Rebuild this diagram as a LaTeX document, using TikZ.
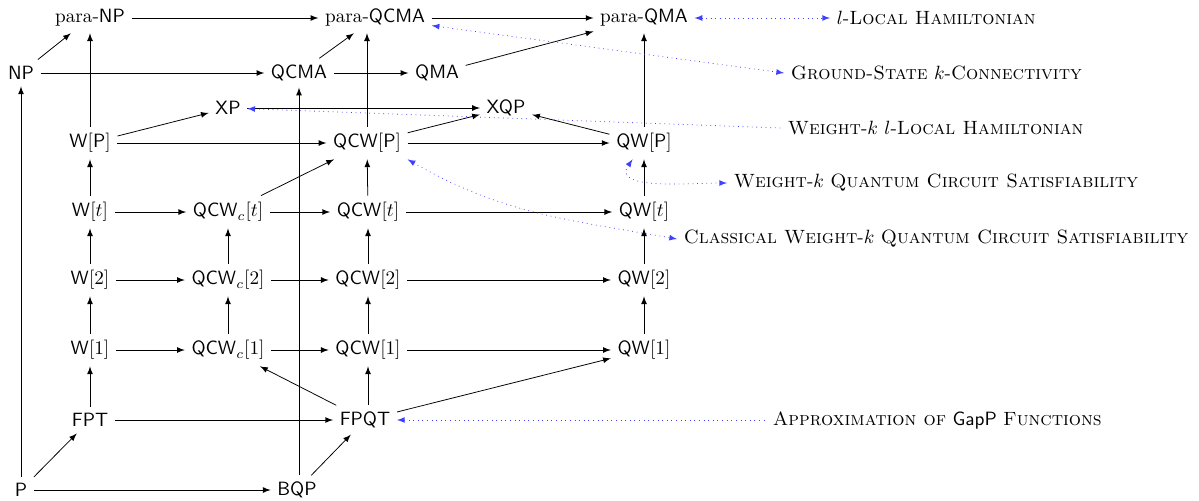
\documentclass[tikz,border=0pt]{standalone}
\usepackage{amsmath}
\usepackage{amssymb}
\usetikzlibrary{arrows}
\tikzset{
  prob/.style={anchor=west},
  incl/.style={->,>=latex},
  compl/.style={>=latex,dotted,blue!75},
}
\newcommand{\cls}[1]{\ensuremath{\mathsf{#1}}}

\begin{document}
\begin{tikzpicture}[x=0.0183cm,y=-0.0183cm]
\useasboundingbox (0,0) rectangle (1199,500);
% classes
\node (pnp) at (90,18) {para-\cls{NP}};
\node (pqcma) at (375,18) {para-\cls{QCMA}};
\node (pqma) at (644,18) {para-\cls{QMA}};
\node (np) at (21,73) {\cls{NP}};
\node (qcma) at (299,73) {\cls{QCMA}};
\node (qma) at (437,73) {\cls{QMA}};
\node (xp) at (228,108) {\cls{XP}};
\node (xqp) at (506,108) {\cls{XQP}};
\node (wp) at (90,143) {$\mathsf{W}[\mathsf{P}]$};
\node (qcwp) at (367,143) {$\mathsf{QCW}[\mathsf{P}]$};
\node (qwp) at (644,143) {$\mathsf{QW}[\mathsf{P}]$};
\node (wt) at (90,212) {$\mathsf{W}[t]$};
\node (qcwct) at (228,212) {$\mathsf{QCW}_c[t]$};
\node (qcwt) at (368,212) {$\mathsf{QCW}[t]$};
\node (qwt) at (644,212) {$\mathsf{QW}[t]$};
\node (w2) at (90,280) {$\mathsf{W}[2]$};
\node (qcwc2) at (228,280) {$\mathsf{QCW}_c[2]$};
\node (qcw2) at (368,280) {$\mathsf{QCW}[2]$};
\node (qw2) at (644,280) {$\mathsf{QW}[2]$};
\node (w1) at (90,350) {$\mathsf{W}[1]$};
\node (qcwc1) at (228,350) {$\mathsf{QCW}_c[1]$};
\node (qcw1) at (368,350) {$\mathsf{QCW}[1]$};
\node (qw1) at (644,350) {$\mathsf{QW}[1]$};
\node (fpt) at (90,420) {\cls{FPT}};
\node (fpqt) at (365,420) {\cls{FPQT}};
\node (p) at (21,490) {\cls{P}};
\node (bqp) at (297,490) {\cls{BQP}};
% problems
\node[prob] (llh) at (830,18) {$l$-\textsc{Local Hamiltonian}};
\node[prob] (gsk) at (784,73) {\textsc{Ground-State} $k$-\textsc{Connectivity}};
\node[prob] (wllh) at (781,128) {\textsc{Weight}-$k$ $l$-\textsc{Local Hamiltonian}};
\node[prob] (wqcs) at (727,183) {\textsc{Weight}-$k$ \textsc{Quantum Circuit Satisfiability}};
\node[prob] (cwqcs) at (677,239) {\textsc{Classical Weight}-$k$ \textsc{Quantum Circuit Satisfiability}};
\node[prob] (gapp) at (766,420) {\textsc{Approximation of} \textsf{GapP} \textsc{Functions}};

\draw[incl] (pnp) -- (pqcma);
\draw[incl] (pqcma) -- (pqma);
\draw[incl] (np) -- (pnp);
\draw[incl] (np) -- (qcma);
\draw[incl] (qcma) -- (pqcma);
\draw[incl] (qcma) -- (qma);
\draw[incl] (qma) -- (pqma);
\draw[incl] (wp) -- (pnp);
\draw[incl] (qcwp) -- (qcwp |- pqcma.south);
\draw[incl] (qwp) -- (pqma);
\draw[incl] (wp) -- (xp);
\draw[incl] (xp) -- (xqp);
\draw[incl] (wp) -- (qcwp);
\draw[incl] (qcwp) -- (xqp);
\draw[incl] (qcwp) -- (qwp);
\draw[incl] (qwp) -- (xqp);

\draw[incl] (wt) -- (wp);
\draw[incl] (wt) -- (qcwct);
\draw[incl] (qcwct) -- (qcwt);
\draw[incl] (qcwt) -- (qwt);
\draw[incl] (qcwct) -- (qcwp);
\draw[incl] (qcwt) -- (qcwp);
\draw[incl] (qwt) -- (qwp);

\draw[incl] (w2) -- (wt);
\draw[incl] (qcwc2) -- (qcwct);
\draw[incl] (qcw2) -- (qcwt);
\draw[incl] (qw2) -- (qwt);
\draw[incl] (w2) -- (qcwc2);
\draw[incl] (qcwc2) -- (qcw2);
\draw[incl] (qcw2) -- (qw2);

\draw[incl] (w1) -- (w2);
\draw[incl] (qcwc1) -- (qcwc2);
\draw[incl] (qcw1) -- (qcw2);
\draw[incl] (qw1) -- (qw2);
\draw[incl] (w1) -- (qcwc1);
\draw[incl] (qcwc1) -- (qcw1);
\draw[incl] (qcw1) -- (qw1);

\draw[incl] (fpt) -- (w1);
\draw[incl] (fpt) -- (fpqt);
\draw[incl] (fpqt) -- (qcwc1);
\draw[incl] (qcw1 |- fpqt.north) -- (qcw1);
\draw[incl] (fpqt) -- (qw1);
\draw[incl] (p) -- (fpt);
\draw[incl] (p) -- (bqp);
\draw[incl] (p) -- (np);
\draw[incl] (bqp) -- (fpqt);
\draw[incl] (qcma |- bqp.north) -- (qcma);

% completeness
\draw[compl,<->] (pqma) -- (llh.west);
\draw[compl,<->] (pqcma) -- (gsk.west);
\draw[compl,<-] (xp) -- (wllh.west);
\draw[compl,<->] (qwp) to[out=-125,in=180] (wqcs.west);
\draw[compl,<->] (qcwp.south east) to[out=-30,in=170] (cwqcs.west);
\draw[compl,<-] (fpqt) -- (gapp.west);
\end{tikzpicture}
\end{document}
